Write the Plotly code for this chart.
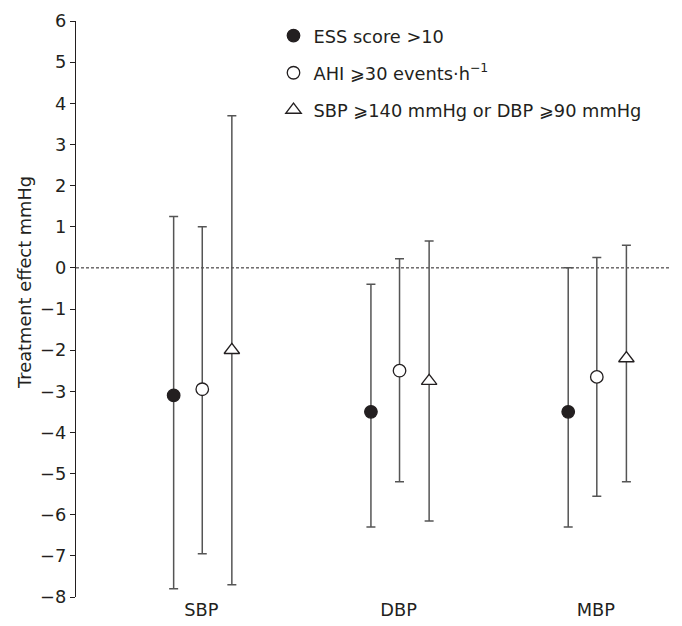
import plotly.graph_objects as go

categories = ["SBP", "DBP", "MBP"]
series_names = ["ESS score >10", "AHI ⩾30 events·h<sup>−1</sup>", "SBP ⩾140 mmHg or DBP ⩾90 mmHg"]
ess_est = [-3.1, -3.5, -3.5]
ess_hi = [1.25, -0.4, 0.0]
ess_lo = [-7.8, -6.3, -6.3]
ahi_est = [-2.95, -2.5, -2.65]
ahi_hi = [1.0, 0.22, 0.25]
ahi_lo = [-6.95, -5.2, -5.55]
htn_est = [-2.0, -2.75, -2.2]
htn_hi = [3.7, 0.65, 0.55]
htn_lo = [-7.7, -6.15, -5.2]
y_ticks = list(range(-8, 7))
y_title = "Treatment effect mmHg"

offsets = [-0.14, 0.005, 0.155]
symbols = ["circle", "circle", "triangle-up"]
fills = ["#231f20", "white", "white"]
sizes = [12.5, 12.5, 13.5]
data = [(ess_est, ess_hi, ess_lo), (ahi_est, ahi_hi, ahi_lo), (htn_est, htn_hi, htn_lo)]

ink = "#231f20"
font = "DejaVu Sans, Verdana, sans-serif"
fs = 17.8
fig = go.Figure()
for i, (est, hi, lo) in enumerate(data):
    xs = [k + 1 + offsets[i] for k in range(len(categories))]
    fig.add_trace(go.Scatter(
        x=xs, y=est, mode="markers", name=series_names[i],
        legendgroup=f"g{i}",
        marker=dict(symbol=symbols[i], size=sizes[i], color=fills[i],
                    line=dict(color=ink, width=1.3)),
        error_y=dict(type="data", symmetric=False,
                     array=[h - e for h, e in zip(hi, est)],
                     arrayminus=[e - l for e, l in zip(est, lo)],
                     color="#555555", thickness=1.5, width=4.5),
    ))

fig.add_shape(type="line", xref="paper", yref="y", x0=0, x1=1, y0=0, y1=0,
              line=dict(color=ink, width=1, dash="3px,2px"), layer="below")

fig.add_annotation(text=y_title, textangle=-90, xref="paper", yref="paper",
                   x=-0.0859, y=0.547, xanchor="center", yanchor="middle",
                   showarrow=False, font=dict(size=fs, color=ink, family=font))

fig.update_layout(
    width=674, height=618,
    margin=dict(l=68, r=12, t=10, b=29),
    paper_bgcolor="white", plot_bgcolor="white",
    font=dict(family=font, size=fs, color=ink),
    showlegend=True,
    legend=dict(x=0.3325, y=1.006, xanchor="left", yanchor="top",
                font=dict(size=fs, color=ink), tracegroupgap=11,
                bgcolor="rgba(0,0,0,0)", itemwidth=30),
    xaxis=dict(range=[0.365, 3.376], tickvals=[1, 2, 3], ticktext=categories,
               showline=False, showgrid=False, zeroline=False, ticks="",
               tickfont=dict(size=fs), automargin=False),
    yaxis=dict(range=[-8, 6], tickvals=y_ticks,
               ticktext=[("−" + str(-v)) if v < 0 else str(v) for v in y_ticks],
               showline=True, linecolor=ink, linewidth=1.2,
               ticks="outside", ticklen=5, tickcolor=ink,
               showgrid=False, zeroline=False, automargin=False,
               tickfont=dict(size=fs)),
)
fig.write_html("out.html")
